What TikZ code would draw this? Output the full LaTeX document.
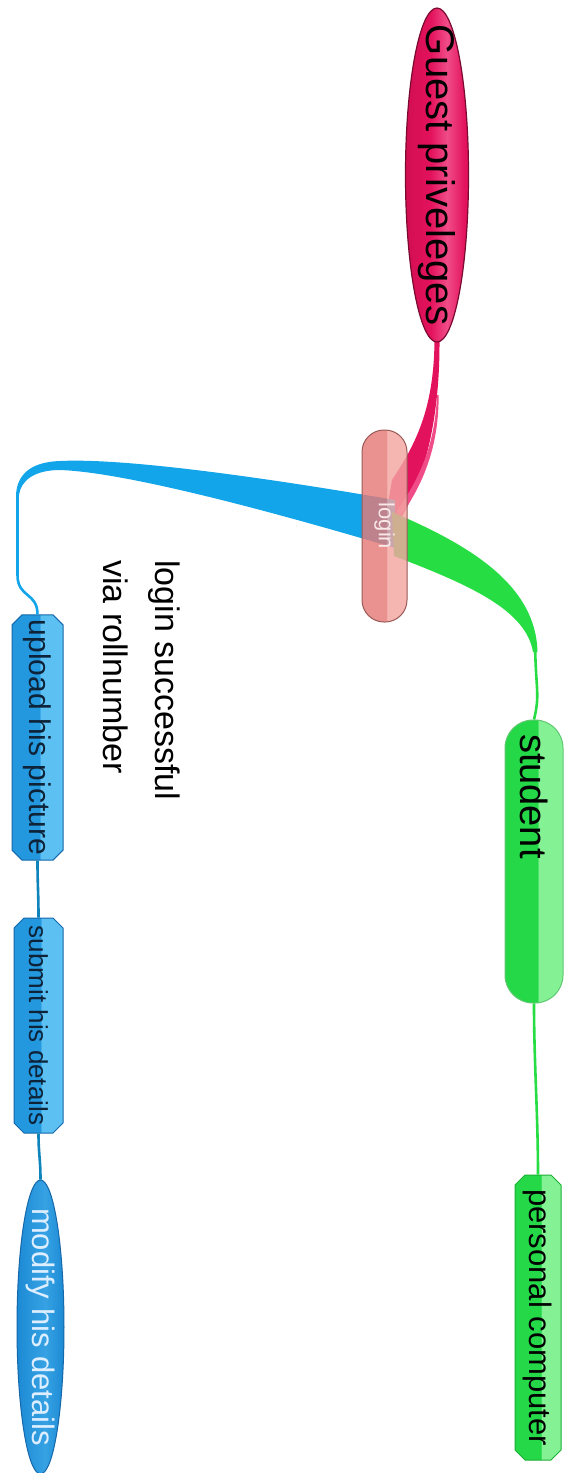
\documentclass[tikz,border=0pt]{standalone}
\usepackage{fontspec}
\setmainfont{Liberation Sans}
\usetikzlibrary{shapes.geometric,shapes.misc}
\definecolor{pinkC}{HTML}{E3125C}
\definecolor{pinkD}{HTML}{D20E52}
\definecolor{pinkL}{HTML}{F04C88}
\definecolor{pinkB}{HTML}{7A0A30}
\definecolor{logD}{HTML}{E57B78}
\definecolor{logL}{HTML}{F3A6A2}
\definecolor{logB}{HTML}{9A5A58}
\definecolor{logT}{HTML}{F8E8E8}
\definecolor{blueC}{HTML}{12A5EA}
\definecolor{bD}{HTML}{2398DE}
\definecolor{bL}{HTML}{5CC0F2}
\definecolor{bB}{HTML}{1568AA}
\definecolor{bT}{HTML}{0E2238}
\definecolor{mD}{HTML}{1C8AD4}
\definecolor{mL}{HTML}{36A2E4}
\definecolor{mT}{HTML}{DCEEFF}
\definecolor{greenC}{HTML}{26DE44}
\definecolor{gD}{HTML}{24D848}
\definecolor{gL}{HTML}{84F294}
\definecolor{gB}{HTML}{1CB034}
\pgfdeclarehorizontalshading{glosspink}{100bp}{color(0bp)=(pinkD); color(25bp)=(pinkD); color(45bp)=(pinkC); color(58bp)=(pinkL); color(72bp)=(pinkC); color(100bp)=(pinkC)}
\pgfdeclarehorizontalshading{glosslog}{100bp}{color(0bp)=(logD); color(52bp)=(logD); color(53bp)=(logL); color(100bp)=(logL)}
\pgfdeclarehorizontalshading{glossblue}{100bp}{color(0bp)=(bD); color(52bp)=(bD); color(53bp)=(bL); color(100bp)=(bL)}
\pgfdeclarehorizontalshading{glossmod}{100bp}{color(0bp)=(mD); color(25bp)=(mD); color(55bp)=(mL); color(75bp)=(mD); color(100bp)=(mD)}
\pgfdeclarehorizontalshading{glossgreen}{100bp}{color(0bp)=(gD); color(53bp)=(gD); color(54bp)=(gL); color(100bp)=(gL)}
\begin{document}
\begin{tikzpicture}[x=1pt,y=-1pt,
  vert/.style={rotate=-90, inner sep=0pt},
  chbox/.style={vert, chamfered rectangle, chamfered rectangle xsep=5pt, chamfered rectangle ysep=5pt, line width=1pt},
  bluebox/.style={chbox, shade, shading=glossblue, draw=bB, text=bT},
  greenbox/.style={chbox, shade, shading=glossgreen, draw=gB, text=black},
  pill/.style={vert, rectangle, line width=1pt},
  ribbonline/.style={line width=2.6pt},
]
\useasboundingbox (0,0) rectangle (564,1473);
\fill[white] (0,0) rectangle (564,1473);
% ribbons from login
\fill[pinkC] (434.5,340) .. controls (434,410) and (415,445) .. (392,480) -- (386,515) -- (396,526) .. controls (420,490) and (440,430) .. (439.5,340) -- cycle;
\fill[pinkL] (437,395) .. controls (435,445) and (420,478) .. (396,512) -- (399,518) .. controls (424,484) and (439,445) .. (438.6,395) -- cycle;
\fill[blueC] (395,500) .. controls (250,475) and (120,458) .. (60,461) .. controls (30,462) and (17,475) .. (16,495) -- (19,495) .. controls (21,480) and (35,470) .. (60,470) .. controls (120,472) and (250,505) .. (395,548) -- cycle;
\fill[greenC] (392,512) .. controls (470,545) and (536,585) .. (537.5,652) -- (533,652) .. controls (526,610) and (470,585) .. (394,556) -- cycle;
\coordinate (gtip) at (535.2,650);
\coordinate (btip) at (17.5,494);
% nodes
\node[vert, ellipse, minimum width=334pt, minimum height=63pt, inner xsep=-35pt, inner ysep=-2pt,
  shade, shading=glosspink, draw=pinkB, line width=1.2pt, text=black,
  font=\fontsize{40}{44}\selectfont] (guest) at (437,175) {Guest priveleges};
\node[pill, minimum width=192pt, minimum height=45pt, rounded corners=22pt,
  shade, shading=glosslog, fill opacity=0.82, draw=logB, text opacity=1, text=logT,
  font=\fontsize{22}{24}\selectfont] (login) at (384.5,526) {login};
\node[pill, minimum width=283pt, minimum height=58pt, rounded corners=28pt,
  shade, shading=glossgreen, draw=gB!70, text=black, text width=255pt, align=left,
  inner xsep=14pt, font=\fontsize{38}{40}\selectfont] (student) at (534,861.5) {student};
\node[greenbox, minimum width=285pt, minimum height=46pt,
  font=\fontsize{31}{33}\selectfont] (pc) at (538,1317.5) {personal computer};
\node[bluebox, minimum width=245pt, minimum height=51pt,
  font=\fontsize{30}{32}\selectfont] (upload) at (37.5,737.5) {upload his picture};
\node[bluebox, minimum width=215pt, minimum height=49pt,
  font=\fontsize{26}{28}\selectfont] (submit) at (38.5,1025.5) {submit his details};
\node[vert, ellipse, minimum width=294pt, minimum height=47pt, inner xsep=-25pt, inner ysep=-2pt,
  shade, shading=glossmod, draw=bB, line width=1pt, text=mT,
  font=\fontsize{31}{33}\selectfont] (modify) at (40.5,1327) {modify his details};
\node[vert, anchor=north west, align=left, font=\fontsize{34}{52}\selectfont] (note) at (180,560) {login successful\\via rollnumber};
% connectors
\draw[greenC, ribbonline] (gtip) .. controls (536,690) and (540,695) .. (student.west);
\draw[blueC, ribbonline] (btip) -- (17.5,575) .. controls (17.5,598) and (37.5,592) .. (upload.west);
\draw[blueC!80!black, ribbonline] (upload.east) .. controls +(0,25) and +(0,-25) .. (submit.west);
\draw[blueC!80!black, ribbonline] (submit.east) .. controls +(0,20) and +(0,-20) .. (modify.west);
\draw[greenC, ribbonline] (student.east) .. controls +(0,60) and +(0,-60) .. (pc.west);
\end{tikzpicture}
\end{document}
